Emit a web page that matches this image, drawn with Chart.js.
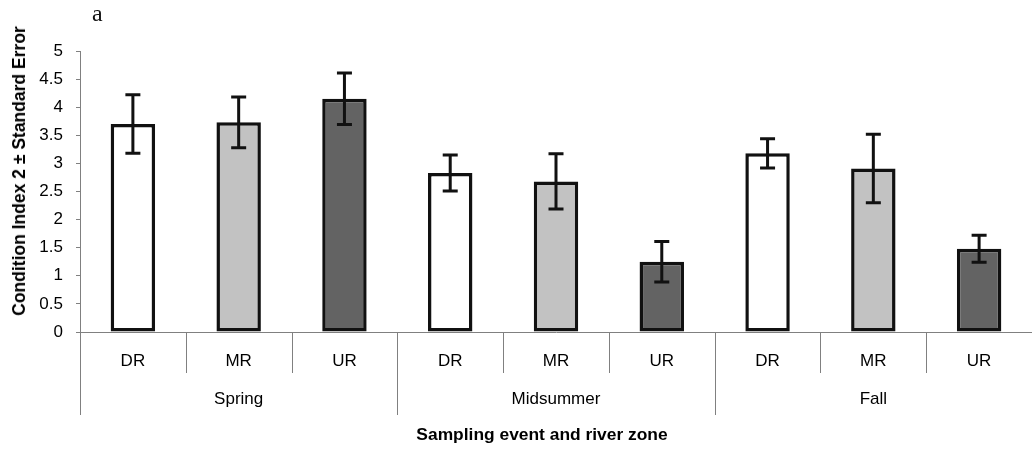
<!DOCTYPE html>
<html>
<head>
<meta charset="utf-8">
<script src="https://cdn.jsdelivr.net/npm/chart.js@4/dist/chart.umd.min.js"></script>
<style>
  html, body { margin: 0; padding: 0; background: #fff; overflow: hidden; }
  #wrap { position: relative; width: 1032px; height: 449px; }
  #panel { position: absolute; left: 92px; top: 1px; font: 24px/1 "Liberation Serif", "Times New Roman", serif; color: #111; }
  #xtitle { position: absolute; left: 542px; top: 424px; transform: translateX(-50%); white-space: nowrap;
            font: bold 17.4px/20px "Liberation Sans", Arial, sans-serif; color: #000; }
  #ytitle { position: absolute; left: 19px; top: 171px; transform: translate(-50%, -50%) rotate(-90deg); white-space: nowrap;
            font: bold 17.5px/20px "Liberation Sans", Arial, sans-serif; color: #000; }
</style>
</head>
<body>
<div id="wrap">
  <canvas id="chart"></canvas>
  <div id="panel">a</div>
  <div id="ytitle">Condition Index 2 ± Standard Error</div>
  <div id="xtitle">Sampling event and river zone</div>
</div>
<script>
const zones = ["DR", "MR", "UR", "DR", "MR", "UR", "DR", "MR", "UR"];
const seasons = ["Spring", "Midsummer", "Fall"];
const means = [3.70, 3.73, 4.15, 2.83, 2.68, 1.25, 3.18, 2.91, 1.48];
const errors = [0.52, 0.45, 0.46, 0.32, 0.49, 0.36, 0.26, 0.61, 0.24];
const zoneFills = { DR: "#ffffff", MR: "#c2c2c2", UR: "#636363" };

Chart.defaults.font.family = "'Liberation Sans', Arial, sans-serif";
Chart.defaults.font.size = 17;
Chart.defaults.color = "#000";

// mean +/- standard error whiskers on top of each bar
const errorBars = {
  id: "errorBars",
  afterDatasetsDraw(chart) {
    const { ctx } = chart;
    const y = chart.scales.y;
    const meta = chart.getDatasetMeta(0);
    ctx.save();
    ctx.strokeStyle = "#111";
    ctx.lineWidth = 3;
    meta.data.forEach((bar, i) => {
      const hi = y.getPixelForValue(means[i] + errors[i]);
      const lo = y.getPixelForValue(means[i] - errors[i]);
      ctx.beginPath();
      ctx.moveTo(bar.x, hi);
      ctx.lineTo(bar.x, lo);
      ctx.moveTo(bar.x - 7.5, hi);
      ctx.lineTo(bar.x + 7.5, hi);
      ctx.moveTo(bar.x - 7.5, lo);
      ctx.lineTo(bar.x + 7.5, lo);
      ctx.stroke();
    });
    ctx.restore();
  },
};

// category / season divider lines under the x axis
const dividers = {
  id: "dividers",
  afterDraw(chart) {
    const { ctx, chartArea } = chart;
    const x = chart.scales.x;
    ctx.save();
    ctx.strokeStyle = "#808080";
    ctx.lineWidth = 1;
    for (let i = 0; i < zones.length; i++) {
      const px = Math.round(x.getPixelForValue(i - 0.5)) + 0.5;
      const end = i % 3 === 0 ? 415 : 373;
      ctx.beginPath();
      ctx.moveTo(px, chartArea.bottom);
      ctx.lineTo(px, end);
      ctx.stroke();
    }
    ctx.restore();
  },
};

new Chart(document.getElementById("chart"), {
  type: "bar",
  data: {
    labels: zones,
    datasets: [
      {
        data: means,
        backgroundColor: zones.map((z) => zoneFills[z]),
        borderColor: "#111",
        borderWidth: 3.5,
        borderSkipped: false,
        categoryPercentage: 1,
        barPercentage: 0.42,
      },
    ],
  },
  options: {
    responsive: true,
    maintainAspectRatio: false,
    animation: false,
    layout: { padding: { top: 51, left: 0, right: 0, bottom: 0 } },
    plugins: {
      legend: { display: false },
      tooltip: { enabled: false },
    },
    scales: {
      y: {
        min: 0,
        max: 5,
        afterFit: (s) => { s.width = 80; },
        ticks: { stepSize: 0.5, padding: 13, callback: (v) => String(Math.round(v * 10) / 10) },
        grid: { drawOnChartArea: false, tickLength: 4, color: "#808080" },
        border: { color: "#808080" },
      },
      x: {
        afterFit: (s) => { s.height = 41; },
        weight: 1,
        grid: { display: true, drawOnChartArea: false, drawTicks: false },
        border: { color: "#808080" },
        ticks: { padding: 19, maxRotation: 0, autoSkip: false },
      },
      x2: {
        type: "category",
        position: "bottom",
        labels: seasons,
        offset: true,
        weight: 2,
        afterFit: (s) => { s.height = 76; },
        grid: { display: false, drawTicks: false },
        border: { display: false },
        ticks: { padding: 16, maxRotation: 0 },
      },
    },
  },
  plugins: [errorBars, dividers],
});
</script>
</body>
</html>
